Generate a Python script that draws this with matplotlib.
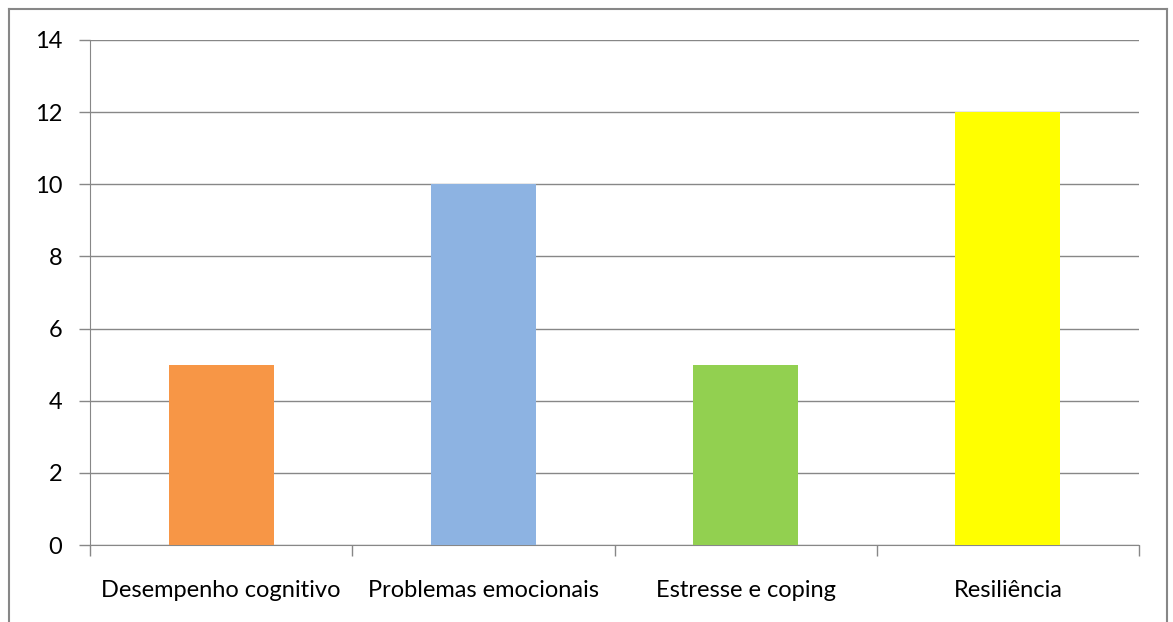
import matplotlib.pyplot as plt
from matplotlib.lines import Line2D

categories = ["Desempenho cognitivo", "Problemas emocionais", "Estresse e coping", "Resiliência"]
values = [5, 10, 5, 12]
colors = ["#F79646", "#8DB3E2", "#92D050", "#FFFF00"]
yticks = [0, 2, 4, 6, 8, 10, 12, 14]

plt.rcParams["font.family"] = ["Lato", "DejaVu Sans"]
gray = "#878787"

fig = plt.figure(figsize=(11.73, 6.22), dpi=100)
ax = fig.add_axes([90 / 1173, 77 / 622, 1049 / 1173, 505 / 622])

x = range(len(categories))
ax.bar(x, values, width=0.4, color=colors, zorder=3)

ax.set_xlim(-0.5, len(categories) - 0.5)
ax.set_ylim(0, 14)
ax.set_yticks(yticks)
ax.yaxis.grid(True, color=gray, linewidth=1, zorder=0)

# ticks at category boundaries, labels at centres
ax.set_xticks([i - 0.5 for i in range(len(categories) + 1)])
ax.set_xticklabels([])
ax.set_xticks(list(x), minor=True)
ax.set_xticklabels(categories, minor=True)
ax.tick_params(axis="x", which="major", length=8, color=gray, width=1)
ax.tick_params(axis="x", which="minor", length=0, pad=25, labelsize=17)
ax.tick_params(axis="y", length=8, color=gray, width=1, pad=12, labelsize=17)

for side in ["top", "right"]:
    ax.spines[side].set_visible(False)
ax.spines["left"].set_color(gray)
ax.spines["bottom"].set_color(gray)

# outer chart border (bottom edge falls outside the image)
bx0, bx1, by = 9 / 1173, 1167 / 1173, 1 - 9 / 622
for xs, ys in [([bx0, bx0], [0, by]), ([bx0, bx1], [by, by]), ([bx1, bx1], [by, 0])]:
    fig.add_artist(Line2D(xs, ys, color=gray, linewidth=1.5, transform=fig.transFigure))

fig.savefig("out.png", dpi=100)
